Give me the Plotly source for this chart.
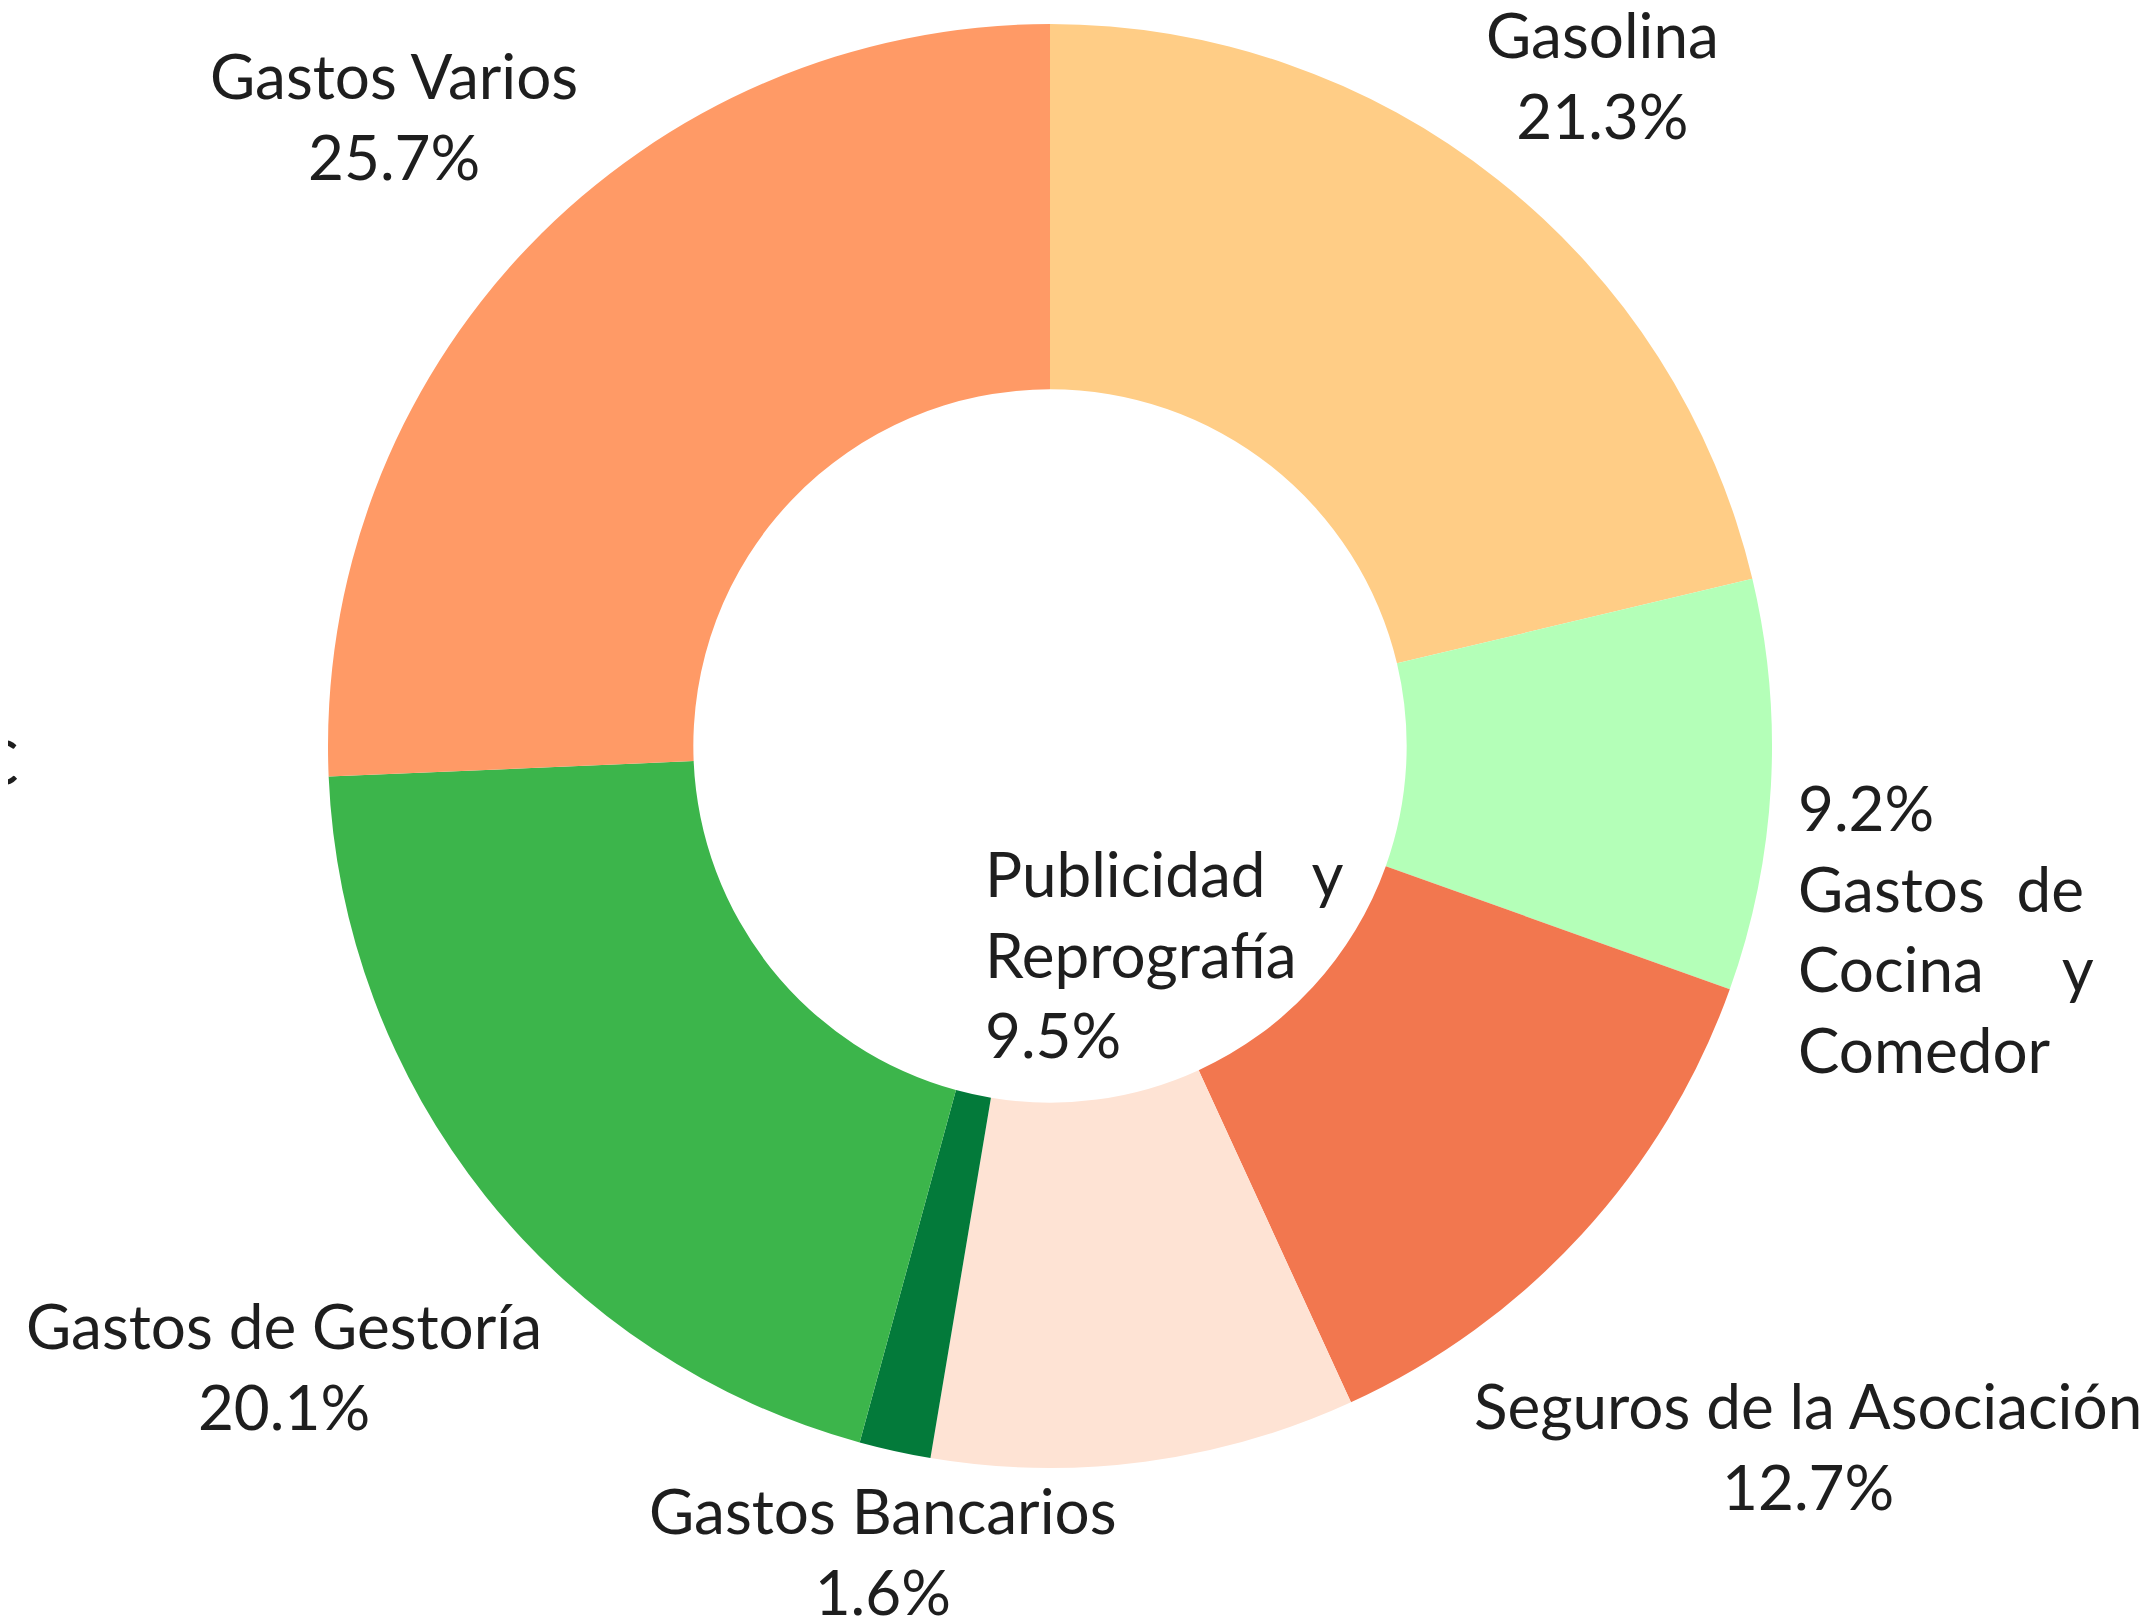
import plotly.graph_objects as go

# ---- data ----
categories = ["Gasolina", "Gastos de Cocina y Comedor", "Seguros de la Asociación",
              "Publicidad y Reprografía", "Gastos Bancarios", "Gastos de Gestoría",
              "Gastos Varios"]
percentages = [21.3, 9.2, 12.7, 9.5, 1.6, 20.1, 25.7]
colors = ["#FFCD86", "#B4FFB8", "#F2774F", "#FEE3D4", "#037A3A", "#3CB54B", "#FF9A66"]

W, H = 2151, 1621
FONT = "Lato, 'Open Sans', sans-serif"
FS = 62
TXT = "#1e1e1e"

fig = go.Figure(go.Pie(
    labels=categories,
    values=percentages,
    marker=dict(colors=colors, line=dict(width=0)),
    hole=0.494,
    sort=False,
    direction="clockwise",
    rotation=0,
    textinfo="none",
    hoverinfo="label+percent",
    domain=dict(x=[320 / W, 1764 / W], y=[1 - 1460 / H, 1 - 16 / H]),
    showlegend=False,
))

def pct(i):
    return f"{percentages[i]}%"

NB = "\u00a0"
# label blocks: (text, x_px, y_px, xanchor, align)
blocks = [
    (f"{categories[0]}<br>{pct(0)}", 1594, 66, "center", "center"),
    (f"{pct(1)}<br>Gastos{NB*2}de<br>Cocina{NB*5}y<br>Comedor", 1788, 920, "left", "left"),
    (f"{categories[2]}<br>{pct(2)}", 1800, 1437, "center", "center"),
    (f"Publicidad{NB*3}y<br>Reprografía<br>{pct(3)}", 975, 946, "left", "left"),
    (f"{categories[4]}<br>{pct(4)}", 875, 1542, "center", "center"),
    (f"{categories[5]}<br>{pct(5)}", 276, 1357, "center", "center"),
    (f"{categories[6]}<br>{pct(6)}", 386, 107, "center", "center"),
]

for text, xp, yp, xa, al in blocks:
    fig.add_annotation(
        text=text, x=xp / W, y=1 - yp / H, xref="paper", yref="paper",
        xanchor=xa, yanchor="middle", align=al, showarrow=False,
        font=dict(family=FONT, size=FS, color=TXT),
    )

# clipped glyph at left edge
fig.add_annotation(
    text="C", x=12 / W, y=1 - 753 / H, xref="paper", yref="paper",
    xanchor="right", yanchor="middle", showarrow=False,
    font=dict(family=FONT, size=FS, color=TXT),
)

fig.update_layout(
    width=W, height=H,
    margin=dict(l=0, r=0, t=0, b=0),
    paper_bgcolor="white",
    plot_bgcolor="white",
)

fig.write_html("out.html")
